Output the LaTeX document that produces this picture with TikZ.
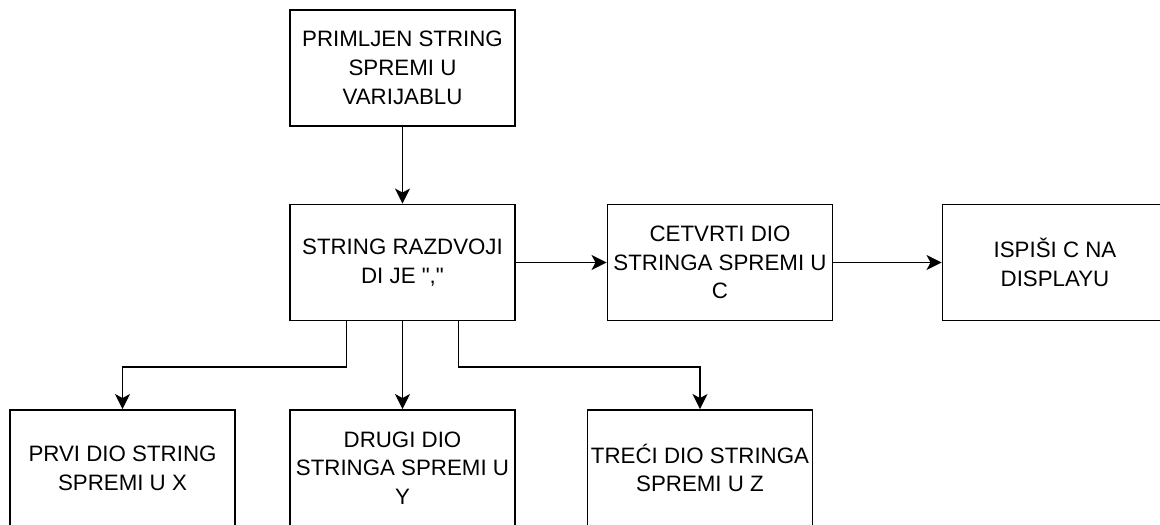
\documentclass[tikz,border=0pt]{standalone}
\usepackage{fontspec}
\setmainfont{Liberation Sans}[Ligatures=TeXOff]
\usetikzlibrary{arrows.meta}
\tikzset{
    flow diagram/.style = {>={Stealth[length=15pt, width=15pt, inset=4pt]},
                           x=1pt, y=-1pt},
    line/.style         = {line width=1.9pt},
    block/.style        = {draw, line width=1.9pt, fill=white, align=center,
                           minimum width=225pt, minimum height=116pt,
                           inner sep=0pt,
                           font=\fontsize{22.3}{28.7}\selectfont}
}
\def\toprow{68}
\def\midrow{262.5}
\def\bottomrow{468}

\begin{document}
\begin{tikzpicture}[flow diagram]
\useasboundingbox[fill=white] (0,0) rectangle (1160,525);
\clip (0,0) rectangle (1160,525);
% receive and split the string
\node[block] (prijem) at (402.5,\toprow)
  {PRIMLJEN STRING\\SPREMI U\\VARIJABLU};
\node[block] (razdvoji) at (402.5,\midrow)
  {STRING RAZDVOJI\\DI JE ","};
\node[block] (cetvrti) at (720,\midrow)
  {CETVRTI DIO\\STRINGA SPREMI U\\C};
\node[block] (ispis) at (1055,\midrow)
  {ISPIŠI C NA\\DISPLAYU};
% the three parts of the string
\node[block] (prvi) at (122.5,\bottomrow)
  {PRVI DIO STRING\\SPREMI U X};
\node[block] (drugi) at (402.5,\bottomrow)
  {DRUGI DIO\\STRINGA SPREMI U\\Y};
\node[block] (treci) at (700,\bottomrow)
  {TREĆI DIO STRINGA\\SPREMI U Z};

\draw[->, line] (prijem) -- (razdvoji);
\draw[->, line] (razdvoji) -- (cetvrti);
\draw[->, line] (cetvrti) -- (ispis);
\draw[->, line] ([xshift=-56pt]razdvoji.south)
  |- ([yshift=42pt]prvi.north) -- (prvi.north);
\draw[->, line] (razdvoji) -- (drugi);
\draw[->, line] ([xshift=56pt]razdvoji.south)
  |- ([yshift=42pt]treci.north) -- (treci.north);

\end{tikzpicture}
\end{document}
